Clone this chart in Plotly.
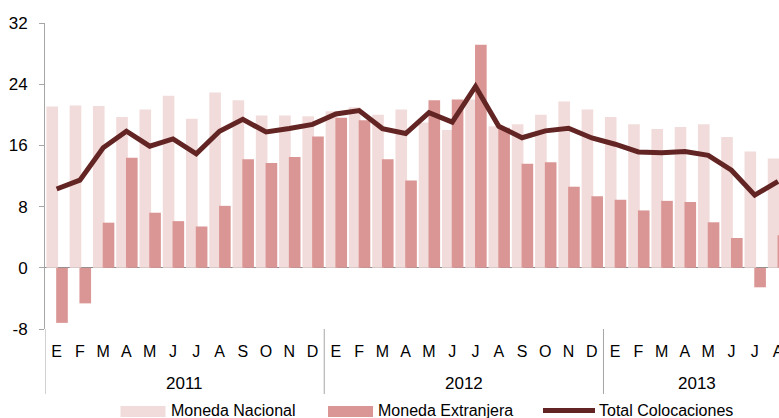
import plotly.graph_objects as go

# Monthly series, Jan 2011 - Aug 2013 (E = enero ... D = diciembre)
months = ["E", "F", "M", "A", "M", "J", "J", "A", "S", "O", "N", "D",
          "E", "F", "M", "A", "M", "J", "J", "A", "S", "O", "N", "D",
          "E", "F", "M", "A", "M", "J", "J", "A"]
years = ["2011", "2012", "2013"]
year_centers = [5.5, 17.5, 27.5]
year_breaks = [-0.5, 11.5, 23.5]
y_ticks = [-8, 0, 8, 16, 24, 32]
y_tick_text = ["-8", "0", "8", "16", "24", "32"]

moneda_nacional = [21.1, 21.2, 21.15, 19.7, 20.7, 22.5, 19.5, 22.9, 21.9, 19.9, 19.9, 19.8,
                   20.45, 21.0, 20.0, 20.7, 19.0, 18.0, 22.0, 18.5, 18.75, 20.0, 21.75, 20.7,
                   19.7, 18.75, 18.15, 18.4, 18.75, 17.1, 15.2, 14.3]
moneda_extranjera = [-7.2, -4.65, 5.9, 14.4, 7.2, 6.1, 5.4, 8.1, 14.2, 13.7, 14.5, 17.15,
                     19.6, 19.3, 14.2, 11.4, 21.9, 22.0, 29.15, 18.3, 13.6, 13.8, 10.6, 9.35,
                     8.9, 7.5, 8.75, 8.6, 5.95, 3.9, -2.55, 4.25]
total_colocaciones = [10.3, 11.45, 15.7, 17.85, 15.9, 16.85, 14.9, 17.85, 19.4, 17.75, 18.2, 18.75,
                      20.1, 20.55, 18.2, 17.55, 20.27, 19.05, 23.7, 18.5, 17.0, 17.9, 18.25, 16.97,
                      16.15, 15.15, 15.05, 15.2, 14.7, 12.75, 9.5, 11.3]

x = list(range(len(months)))

C_NAC = "#F2DCDB"
C_EXT = "#DA9694"
C_TOT = "#632523"
C_AXIS = "#A6A6A6"
FONT = "Liberation Sans, Arial, sans-serif"

W, H = 779, 418
ML, MR, MT, MB = 45, 0, 23, 89
PW, PH = W - ML - MR, H - MT - MB


def px_x(p):
    return (p - ML) / PW


def px_y(p):
    return (H - MB - p) / PH


fig = go.Figure()
fig.add_trace(go.Bar(x=x, y=moneda_nacional, name="Moneda Nacional",
                     marker=dict(color=C_NAC, line=dict(width=0)),
                     offset=-0.44, width=0.5))
fig.add_trace(go.Bar(x=x, y=moneda_extranjera, name="Moneda Extranjera",
                     marker=dict(color=C_EXT, line=dict(width=0)),
                     offset=-0.02, width=0.5))
fig.add_trace(go.Scatter(x=x, y=total_colocaciones, name="Total Colocaciones",
                         mode="lines", line=dict(color=C_TOT, width=5)))

shapes = []
# group separators running down through the category labels
for xb in year_breaks:
    shapes.append(dict(type="line", xref="x", yref="paper", x0=xb, x1=xb,
                       y0=0, y1=px_y(394), line=dict(color=C_AXIS, width=1)))

annotations = []
for yr, xc in zip(years, year_centers):
    annotations.append(dict(text=yr, x=xc, y=px_y(383.5), xref="x", yref="paper",
                            showarrow=False, xanchor="center", yanchor="middle",
                            font=dict(size=17, color="black", family=FONT)))

# legend row
leg_y = 410.5
shapes.append(dict(type="rect", xref="paper", yref="paper",
                   x0=px_x(120.5), x1=px_x(165.5), y0=px_y(406), y1=px_y(417),
                   fillcolor=C_NAC, line=dict(width=0)))
shapes.append(dict(type="rect", xref="paper", yref="paper",
                   x0=px_x(328), x1=px_x(373), y0=px_y(406), y1=px_y(417),
                   fillcolor=C_EXT, line=dict(width=0)))
shapes.append(dict(type="line", xref="paper", yref="paper",
                   x0=px_x(543), x1=px_x(595), y0=px_y(leg_y), y1=px_y(leg_y),
                   line=dict(color=C_TOT, width=5)))
for label, lx in [("Moneda Nacional", 169), ("Moneda Extranjera", 376),
                  ("Total Colocaciones", 597)]:
    annotations.append(dict(text=label, x=px_x(lx), y=px_y(leg_y), xref="paper", yref="paper",
                            showarrow=False, xanchor="left", yanchor="middle",
                            font=dict(size=16, color="black", family=FONT)))

fig.update_layout(
    template="none",
    width=W, height=H,
    margin=dict(l=ML, r=MR, t=MT, b=MB, pad=0),
    paper_bgcolor="white", plot_bgcolor="white",
    barmode="overlay",
    showlegend=False,
    font=dict(family=FONT, color="black"),
    shapes=shapes,
    annotations=annotations,
    xaxis=dict(range=[-0.5, -0.5 + PW / 23.27], tickmode="array", tickvals=x, ticktext=months,
               showgrid=False, zeroline=False, showline=False, ticks="",
               tickfont=dict(size=16, color="black", family=FONT),
               ticklabelstandoff=11, ticklabeloverflow="allow", automargin=False),
    yaxis=dict(range=[-8, 32], tickmode="array", tickvals=y_ticks, ticktext=y_tick_text,
               showgrid=False, zeroline=True, zerolinecolor="#8C8C8C", zerolinewidth=1,
               showline=True, linecolor=C_AXIS, linewidth=1,
               ticks="outside", ticklen=5, tickcolor=C_AXIS,
               tickfont=dict(size=17, color="black", family=FONT),
               ticklabelstandoff=8, automargin=False),
)

fig.write_html("out.html")
